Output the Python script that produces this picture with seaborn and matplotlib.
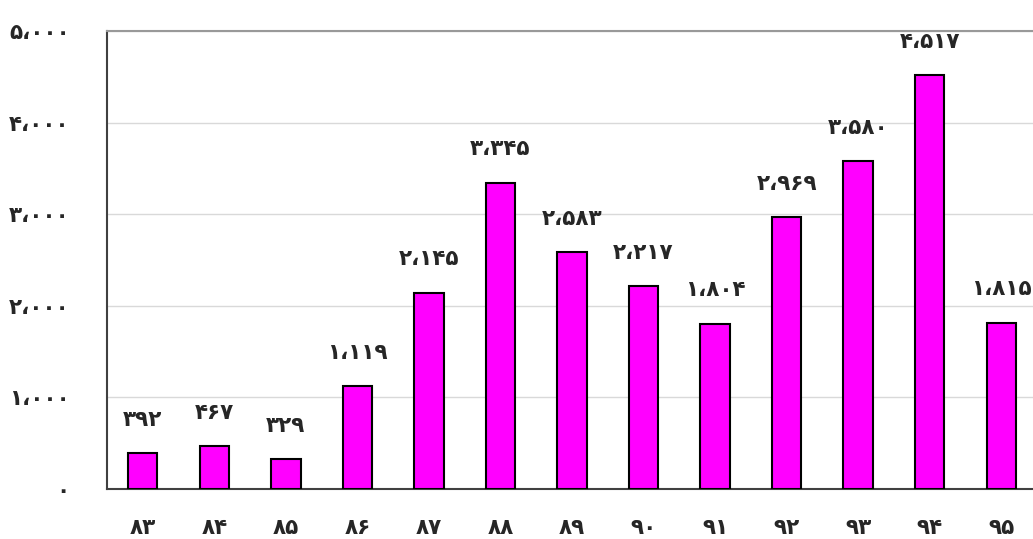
import matplotlib
matplotlib.use('Agg')
import matplotlib.pyplot as plt
import seaborn as sns
import pandas as pd

# داده‌ها
years = ['83', '84', '85', '86', '87', '88', '89', '90', '91', '92', '93', '94', '95']
values = [392, 467, 329, 1119, 2145, 3345, 2583, 2217, 1804, 2969, 3580, 4517, 1815]
yticks = [0, 1000, 2000, 3000, 4000, 5000]

fa_digits = str.maketrans('0123456789', '۰۱۲۳۴۵۶۷۸۹')


def fa(n):
    return f'{n:,}'.replace(',', '،').translate(fa_digits)


df = pd.DataFrame({'year': years, 'value': values})

sns.set_style('white')
plt.rcParams['font.family'] = ['DejaVu Sans']

fig = plt.figure(figsize=(10.33, 5.39), dpi=100)
ax = fig.add_axes([107 / 1033, 1 - 489 / 539, (1037 - 107) / 1033, (489 - 31) / 539])

sns.barplot(data=df, x='year', y='value', ax=ax, color='#ff00ff', saturation=1,
            width=0.41, edgecolor='black', linewidth=1.5, zorder=3)

ax.set_ylim(0, 5000)
ax.set_xlim(-0.5, len(years) - 0.5)
ax.set_yticks(yticks)
ax.set_yticklabels([fa(v) for v in yticks])
ax.set_xticks(range(len(years)))
ax.set_xticklabels([y.translate(fa_digits) for y in years])
ax.yaxis.grid(True, color='#d9d9d9', linewidth=1, zorder=0)
ax.set_xlabel('')
ax.set_ylabel('')

for lbl in ax.get_xticklabels() + ax.get_yticklabels():
    lbl.set_fontweight('bold')
    lbl.set_fontsize(15.5)
ax.tick_params(axis='y', length=0, pad=27)
ax.tick_params(axis='x', length=0, pad=21)

for s in ['left', 'bottom']:
    ax.spines[s].set_color('#404040')
    ax.spines[s].set_linewidth(1.5)
ax.spines['top'].set_color('#999999')
ax.spines['top'].set_linewidth(1.5)
ax.spines['right'].set_visible(False)

# برچسب مقادیر
for i, v in enumerate(values):
    ax.annotate(fa(v), (i, v), xytext=(0, 24), textcoords='offset points',
                ha='center', va='center', fontsize=15.5, fontweight='bold')

fig.savefig('out.png', dpi=100)
